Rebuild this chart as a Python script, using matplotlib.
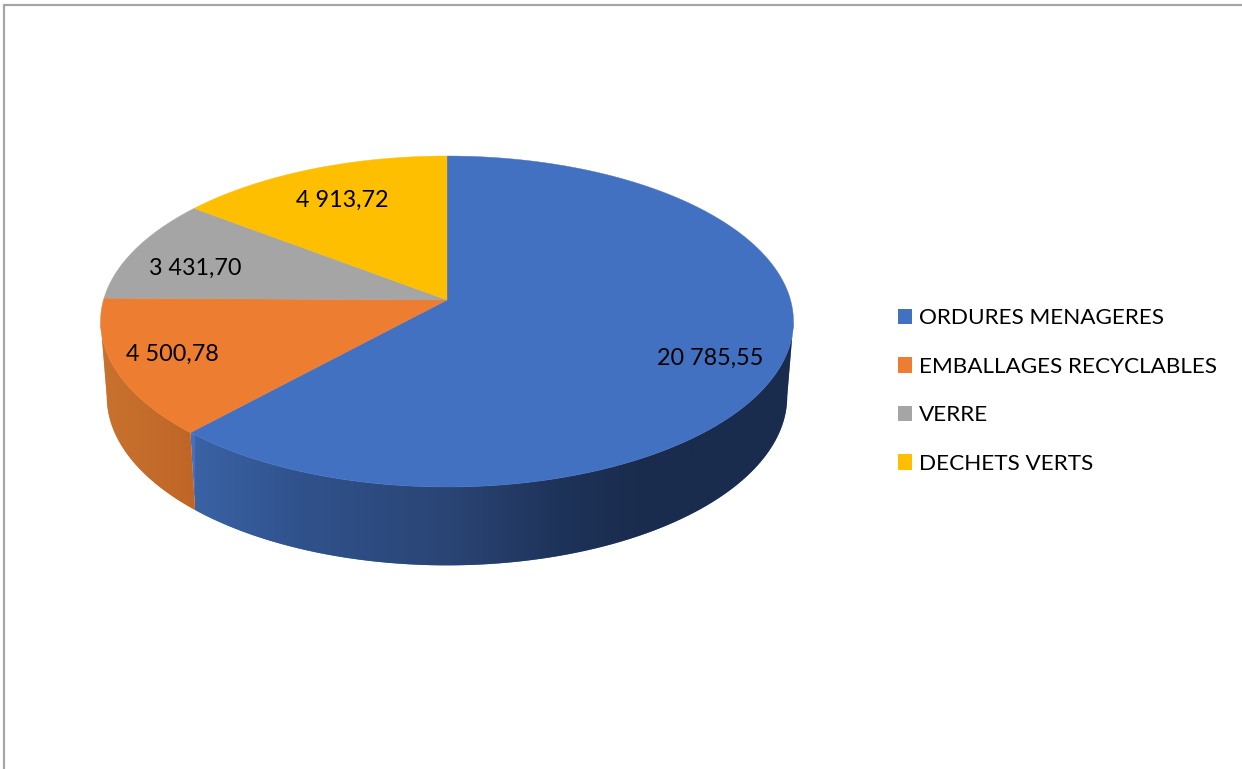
import numpy as np
import matplotlib
matplotlib.use("Agg")
import matplotlib.pyplot as plt
from matplotlib.colors import LinearSegmentedColormap
from matplotlib.patches import Polygon, Patch

plt.rcParams['font.family'] = ['Lato', 'DejaVu Sans']

# ---- data ----
categories = ["ORDURES MENAGERES", "EMBALLAGES RECYCLABLES", "VERRE", "DECHETS VERTS"]
values = [20785.55, 4500.78, 3431.70, 4913.72]
value_labels = ["20 785,55", "4 500,78", "3 431,70", "4 913,72"]
colors = ["#4371C1", "#EC7D31", "#A5A5A5", "#FDBF00"]

# ---- layout (pixels) ----
W, H = 1242, 769
CX, CY, BX, BY, P = 447.0, 300.0, 343.5, 162.7, 0.13
RIM_SCALE_X, RIM_SCALE_Y, RIM_OFF, ELL_CY = 0.982, 1.02, 75.0, 321.0
label_pos = [(710, 358), (172, 354), (195, 268), (342, 200)]
FS_LABEL = 16.8
FS_LEGEND = 16.2

side_stops = {
    0: [(195, "#3a62a4"), (300, "#30528c"), (450, "#2a4474"), (560, "#1e3359"), (640, "#1a2c4e"), (795, "#1a2c4e")],
    1: [(100, "#c9722f"), (195, "#bf6627")],
}


def top(theta, r=1.0):
    """Project a pie angle (radians, clockwise from 12 o'clock) on the tilted disc."""
    u, v = r * np.sin(theta), r * np.cos(theta)
    w = 1 + P * v
    return CX + BX * u / w, CY - BY * v / w


def low(theta):
    x, y = top(theta)
    return CX + RIM_SCALE_X * (x - CX), ELL_CY + RIM_OFF + RIM_SCALE_Y * (y - ELL_CY)


fig = plt.figure(figsize=(W / 100, H / 100), dpi=100, facecolor="white")
ax = fig.add_axes([0, 0, 1, 1])
ax.set_axis_off()

edges = np.concatenate([[0], np.cumsum(values)]) / np.sum(values) * 2 * np.pi
front_a = np.pi - np.arccos(P)          # right silhouette
front_b = np.pi + np.arccos(P)          # left silhouette

# side walls
for i, stops in side_stops.items():
    a = max(edges[i], front_a)
    b = min(edges[i + 1], front_b)
    t = np.linspace(a, b, 300)
    xt, yt = top(t)
    xl, yl = low(t)
    pts = np.column_stack([np.r_[xt, xl[::-1]], np.r_[yt, yl[::-1]]])
    poly = Polygon(pts, closed=True, facecolor=colors[i], edgecolor="none", zorder=1 + i)
    ax.add_patch(poly)
    x0, x1 = stops[0][0], stops[-1][0]
    cmap = LinearSegmentedColormap.from_list(
        "s", [((s[0] - x0) / (x1 - x0), s[1]) for s in stops])
    im = ax.imshow(np.linspace(0, 1, 512)[None, :], cmap=cmap, aspect="auto",
                   extent=(x0, x1, 600, 300), zorder=3 - i * 0.5)
    im.set_clip_path(poly)

# top faces
for i in range(len(values)):
    t = np.linspace(edges[i], edges[i + 1], 400)
    xt, yt = top(t)
    pts = np.column_stack([np.r_[CX, xt], np.r_[CY, yt]])
    ax.add_patch(Polygon(pts, closed=True, facecolor=colors[i],
                         edgecolor=colors[i], linewidth=0.3, zorder=5))

# value labels
for (x, y), s in zip(label_pos, value_labels):
    ax.text(x, y, s, ha="center", va="center", fontsize=FS_LABEL, color="black", zorder=6)

# legend
handles = [Patch(facecolor=c, edgecolor="none", label=n) for c, n in zip(colors, categories)]
ax.legend(handles=handles, loc="upper left", bbox_to_anchor=(897.5, 308.5),
          bbox_transform=ax.transData, frameon=False, fontsize=FS_LEGEND,
          borderpad=0, borderaxespad=0, handlelength=0.66, handleheight=0.66,
          handletextpad=0.3, labelspacing=1.265)

# chart frame, cut by the picture on right and bottom
ax.plot([3.5, 3.5, W + 5], [H + 5, 4.5, 4.5], color="#a6a6a6", lw=1.6, zorder=0,
        solid_joinstyle="miter")

ax.set_xlim(0, W)
ax.set_ylim(H, 0)
fig.savefig("out.png", dpi=100, facecolor="white")
